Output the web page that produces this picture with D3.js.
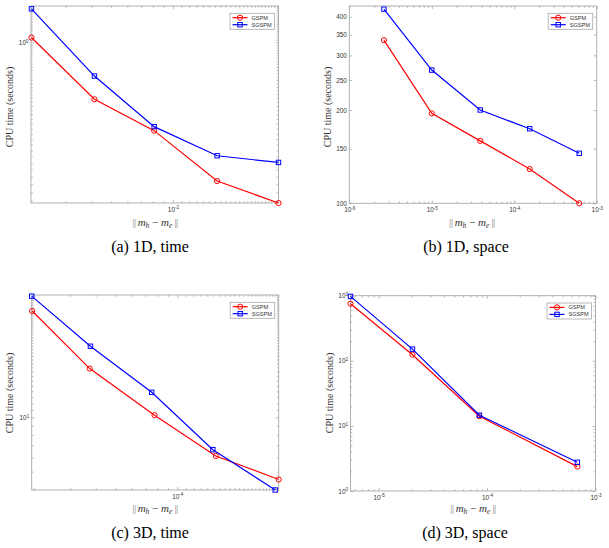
<!DOCTYPE html>
<html>
<head>
<meta charset="utf-8">
<script src="https://cdn.jsdelivr.net/npm/d3@7"></script>
<style>
	body { margin: 0; background: #fff; }
	svg { display: block; }
</style>
</head>
<body>
<svg id="figure" width="609" height="548"></svg>
<script>
'use strict';

// (a) 1D, time
var aErr = [0.00205, 0.00415, 0.0081, 0.0164, 0.0326];
var aGspm = [1.04, 0.633, 0.492, 0.328, 0.275];
var aSgspm = [1.31, 0.763, 0.508, 0.402, 0.381];
var aXLim = [0.00204, 0.0326];
var aYLim = [0.275, 1.34];
var aXTicks = [0.01];
var aYTicks = [1];

// (b) 1D, space
var bErr = [2.63e-6, 1.0e-5, 3.87e-5, 1.54e-4, 6.14e-4];
var bGspm = [336, 195, 159, 129, 100];
var bSgspm = [423, 269, 200, 174, 145];
var bXLim = [1e-6, 1e-3];
var bYLim = [100, 433];
var bXTicks = [1e-6, 1e-5, 1e-4, 1e-3];
var bYTicks = [100, 150, 200, 250, 300, 350, 400];

// (c) 3D, time
var cErrGspm = [1.96e-5, 3.74e-5, 7.74e-5, 1.54e-4, 3.12e-4];
var cErrSgspm = [1.95e-5, 3.77e-5, 7.5e-5, 1.49e-4, 3.0e-4];
var cGspm = [39.1, 18.7, 10.3, 6.11, 4.52];
var cSgspm = [47.3, 24.9, 13.8, 6.62, 3.95];
var cXLim = [1.95e-5, 3.12e-4];
var cYLim = [3.95, 48];
var cXTicks = [1e-4];
var cYTicks = [10];

// (d) 3D, space
var dErr = [5.5e-6, 2.05e-5, 8.5e-5, 6.8e-4];
var dGspm = [753, 124, 14.1, 2.37];
var dSgspm = [975, 151, 14.6, 2.76];
var dXLim = [5.5e-6, 1e-3];
var dYLim = [1, 1000];
var dXTicks = [1e-5, 1e-4, 1e-3];
var dYTicks = [1, 10, 100, 1000];

var seriesNames = ['GSPM', 'SGSPM'];
var captions = ['(a) 1D, time', '(b) 1D, space', '(c) 3D, time', '(d) 3D, space'];

var RED = '#ff0000',
	BLUE = '#0000ff',
	AXIS_GRAY = '#a8a8a8',
	TEXT_GRAY = '#333333',
	SANS = '"Liberation Sans", Arial, sans-serif',
	SERIF = '"Liberation Serif", "Times New Roman", serif';

var svg = d3.select('#figure');

function isNear(v, list) {
	return list.some(function (m) { return Math.abs(v - m) / m < 1e-6; });
}

function powLabel(sel) {
	sel.each(function (d) {
		var t = d3.select(this),
			e = Math.round(Math.log10(d));
		t.text(null);
		t.append('tspan').text('10');
		t.append('tspan')
			.attr('dy', '-0.5em')
			.attr('font-size', '4.6px')
			.text(e);
	});
}

function styleAxis(g) {
	g.select('.domain').remove();
	g.selectAll('line').attr('stroke', AXIS_GRAY).attr('stroke-width', 0.8);
	g.selectAll('text')
		.attr('fill', TEXT_GRAY)
		.attr('font-family', SANS)
		.attr('font-size', '6.4px');
}

function drawPanel(p) {
	var box = p.box;
	var g = svg.append('g');

	var xScale = d3.scaleLog().domain(p.xLim).range([box.left, box.right]),
		yScale = d3.scaleLog().domain(p.yLim).range([box.bottom, box.top]);

	g.append('rect')
		.attr('x', box.left)
		.attr('y', box.top)
		.attr('width', box.right - box.left)
		.attr('height', box.bottom - box.top)
		.attr('fill', '#fff')
		.attr('stroke', AXIS_GRAY)
		.attr('stroke-width', 0.9);

	var xMinor = xScale.ticks(40).filter(function (v) { return !isNear(v, p.xTicks); }),
		yMinor = p.yMinor ? yScale.ticks(40).filter(function (v) { return !isNear(v, p.yTicks); }) : [];

	// minor ticks, all four sides
	[
		[d3.axisBottom(xScale).tickValues(xMinor), 'translate(0,' + box.bottom + ')'],
		[d3.axisTop(xScale).tickValues(xMinor), 'translate(0,' + box.top + ')'],
		[d3.axisLeft(yScale).tickValues(yMinor), 'translate(' + box.left + ',0)'],
		[d3.axisRight(yScale).tickValues(yMinor), 'translate(' + box.right + ',0)']
	].forEach(function (a) {
		g.append('g')
			.attr('transform', a[1])
			.call(a[0].tickSizeInner(-1.8).tickSizeOuter(0).tickFormat(''))
			.call(styleAxis);
	});

	// major ticks
	var xAxis = g.append('g')
		.attr('transform', 'translate(0,' + box.bottom + ')')
		.call(d3.axisBottom(xScale).tickValues(p.xTicks).tickSizeInner(-3).tickSizeOuter(0).tickPadding(4))
		.call(styleAxis);
	xAxis.selectAll('text').call(powLabel);

	var yAxis = g.append('g')
		.attr('transform', 'translate(' + box.left + ',0)')
		.call(d3.axisLeft(yScale).tickValues(p.yTicks).tickSizeInner(-3).tickSizeOuter(0).tickPadding(2.5))
		.call(styleAxis);
	if (p.yPow) {
		yAxis.selectAll('text').call(powLabel);
	} else {
		yAxis.selectAll('text').text(function (d) { return d; });
	}

	g.append('g')
		.attr('transform', 'translate(0,' + box.top + ')')
		.call(d3.axisTop(xScale).tickValues(p.xTicks).tickSizeInner(-3).tickSizeOuter(0).tickFormat(''))
		.call(styleAxis);
	g.append('g')
		.attr('transform', 'translate(' + box.right + ',0)')
		.call(d3.axisRight(yScale).tickValues(p.yTicks).tickSizeInner(-3).tickSizeOuter(0).tickFormat(''))
		.call(styleAxis);

	// LINES
	var line = d3.line()
		.x(function (d) { return xScale(d[0]); })
		.y(function (d) { return yScale(d[1]); });

	p.series.forEach(function (s) {
		var pts = d3.zip(s.x, s.y);
		g.append('path')
			.datum(pts)
			.attr('fill', 'none')
			.attr('stroke', s.color)
			.attr('stroke-width', 1.2)
			.attr('d', line);
		drawMarkers(g, pts.map(function (d) { return [xScale(d[0]), yScale(d[1])]; }), s);
	});

	// LEGEND
	var lgW = 44.5, lgH = 16,
		lgX = box.right - lgW - 4,
		lgY = box.top + 7.3;
	var lg = g.append('g').attr('transform', 'translate(' + lgX + ',' + lgY + ')');
	lg.append('rect')
		.attr('width', lgW)
		.attr('height', lgH)
		.attr('fill', '#fff')
		.attr('stroke', AXIS_GRAY)
		.attr('stroke-width', 0.8);
	p.series.forEach(function (s, i) {
		var cy = 4.4 + i * 7;
		lg.append('line')
			.attr('x1', 2.5).attr('x2', 17.5)
			.attr('y1', cy).attr('y2', cy)
			.attr('stroke', s.color)
			.attr('stroke-width', 1.2);
		drawMarkers(lg, [[10, cy]], s);
		lg.append('text')
			.attr('x', 21.5)
			.attr('y', cy + 2)
			.attr('font-family', SANS)
			.attr('font-size', '5.6px')
			.attr('fill', TEXT_GRAY)
			.text(s.name);
	});

	// LABELS
	var xl = g.append('text')
		.attr('x', p.xLabel[0])
		.attr('y', p.xLabel[1])
		.attr('text-anchor', 'middle')
		.attr('font-family', SERIF)
		.attr('font-size', '11px')
		.attr('fill', TEXT_GRAY);
	xl.append('tspan').attr('letter-spacing', '-0.6px').attr('fill', '#888').text('|| ');
	xl.append('tspan').attr('font-style', 'italic').text('m');
	xl.append('tspan').attr('font-style', 'italic').attr('font-size', '7.5px').attr('dy', '2').text('h');
	xl.append('tspan').attr('dy', '-2').text(' \u2212 ');
	xl.append('tspan').attr('font-style', 'italic').text('m');
	xl.append('tspan').attr('font-style', 'italic').attr('font-size', '7.5px').attr('dy', '2').text('e');
	xl.append('tspan').attr('dy', '-2').attr('letter-spacing', '-0.6px').attr('fill', '#888').text(' ||');

	g.append('text')
		.attr('transform', 'translate(' + p.yLabel[0] + ',' + p.yLabel[1] + ') rotate(-90)')
		.attr('text-anchor', 'middle')
		.attr('font-family', SERIF)
		.attr('font-size', '10px')
		.attr('fill', TEXT_GRAY)
		.text('CPU time (seconds)');

	g.append('text')
		.attr('x', p.caption[0])
		.attr('y', p.caption[1])
		.attr('text-anchor', 'middle')
		.attr('font-family', SERIF)
		.attr('font-size', '16px')
		.attr('fill', '#000')
		.text(p.caption[2]);
}

function drawMarkers(g, pts, s) {
	pts.forEach(function (c) {
		if (s.marker === 'circle') {
			g.append('circle')
				.attr('cx', c[0]).attr('cy', c[1]).attr('r', 2.6)
				.attr('fill', 'none').attr('stroke', s.color).attr('stroke-width', 1);
		} else {
			g.append('rect')
				.attr('x', c[0] - 2.2).attr('y', c[1] - 2.2)
				.attr('width', 4.4).attr('height', 4.4)
				.attr('fill', 'none').attr('stroke', s.color).attr('stroke-width', 1);
		}
	});
}

function makeSeries(xg, yg, xs, ys) {
	return [
		{ name: seriesNames[0], color: RED, marker: 'circle', x: xg, y: yg },
		{ name: seriesNames[1], color: BLUE, marker: 'square', x: xs, y: ys }
	];
}

drawPanel({
	box: { left: 31, right: 278.5, top: 6, bottom: 203 },
	xLim: aXLim, yLim: aYLim, xTicks: aXTicks, yTicks: aYTicks,
	yMinor: true, yPow: true,
	series: makeSeries(aErr, aGspm, aErr, aSgspm),
	xLabel: [155, 226], yLabel: [13, 107], caption: [150, 252, captions[0]]
});

drawPanel({
	box: { left: 349.3, right: 596.7, top: 6, bottom: 203.3 },
	xLim: bXLim, yLim: bYLim, xTicks: bXTicks, yTicks: bYTicks,
	yMinor: false, yPow: false,
	series: makeSeries(bErr, bGspm, bErr, bSgspm),
	xLabel: [472, 226], yLabel: [331, 107], caption: [466, 252, captions[1]]
});

drawPanel({
	box: { left: 31.7, right: 278.7, top: 295, bottom: 490 },
	xLim: cXLim, yLim: cYLim, xTicks: cXTicks, yTicks: cYTicks,
	yMinor: true, yPow: true,
	series: makeSeries(cErrGspm, cGspm, cErrSgspm, cSgspm),
	xLabel: [155, 512], yLabel: [13, 393], caption: [150, 538, captions[2]]
});

drawPanel({
	box: { left: 350.5, right: 595.5, top: 295.7, bottom: 491 },
	xLim: dXLim, yLim: dYLim, xTicks: dXTicks, yTicks: dYTicks,
	yMinor: true, yPow: true,
	series: makeSeries(dErr, dGspm, dErr, dSgspm),
	xLabel: [473, 512], yLabel: [333, 393], caption: [465, 538, captions[3]]
});
</script>
</body>
</html>
